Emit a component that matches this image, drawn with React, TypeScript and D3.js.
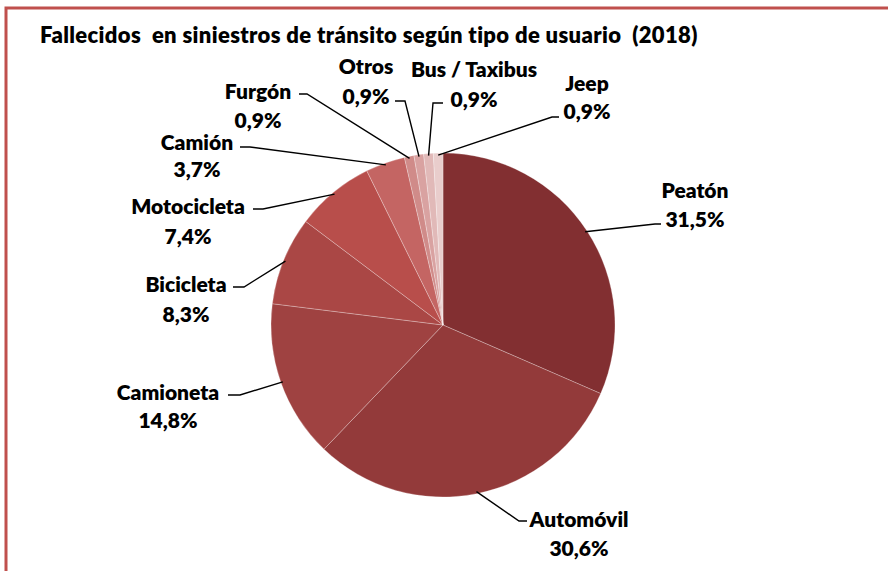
import React from 'react';
import * as d3 from 'd3';

const categories = ['Peatón', 'Automóvil', 'Camioneta', 'Bicicleta', 'Motocicleta', 'Camión', 'Furgón', 'Otros', 'Bus / Taxibus', 'Jeep'];
const shares = [31.5, 30.6, 14.8, 8.3, 7.4, 3.7, 0.9, 0.9, 0.9, 0.9];
const sliceColors = ['#822f31', '#933a3a', '#9f4241', '#aa4745', '#b84e4b', '#c46563', '#d08b89', '#d9a2a1', '#e1b9b8', '#e9cdcc'];
const title = 'Fallecidos  en siniestros de tránsito según tipo de usuario  (2018)';

// label layout: name centre, value centre, elbow of leader and tail end
const labelLayout = [
  { x: 695, ny: 189, vy: 218, ex: 655, ey: 224, tx: 661 },
  { x: 579, ny: 518, vy: 547, ex: 519, ey: 521, tx: 527 },
  { x: 168, ny: 391, vy: 419, ex: 240, ey: 395, tx: 228 },
  { x: 186, ny: 283, vy: 313, ex: 244, ey: 287, tx: 233 },
  { x: 188, ny: 205, vy: 235, ex: 263, ey: 209, tx: 253 },
  { x: 197, ny: 141, vy: 168, ex: 250, ey: 147, tx: 240 },
  { x: 258, ny: 90, vy: 119, ex: 307, ey: 94, tx: 299 },
  { x: 366, ny: 65, vy: 95, ex: 405, ey: 101, tx: 395 },
  { x: 474, ny: 68, vy: 98, ex: 433, ey: 103, tx: 443 },
  { x: 587, ny: 82, vy: 110, ex: 552, ey: 117, tx: 559 },
];

const W = 888;
const H = 571;
const cx = 443;
const cy = 325;
const radius = 172;

export default function App() {
  const data = categories.map((c, i) => ({ name: c, value: shares[i] }));
  const pie = d3.pie<{ name: string; value: number }>().sort(null).value(d => d.value);
  const arcs = pie(data);
  const arc = d3.arc<d3.PieArcDatum<{ name: string; value: number }>>().innerRadius(0).outerRadius(radius);
  const edge = d3.arc<d3.PieArcDatum<{ name: string; value: number }>>().innerRadius(radius - 2).outerRadius(radius - 2);
  const fmt = (v: number) => v.toFixed(1).replace('.', ',') + '%';
  const font = 'Lato, "Liberation Sans", sans-serif';

  return (
    <div style={{ position: 'absolute', left: 0, top: 0 }}>
      <svg width={W} height={H} style={{ display: 'block', background: '#fff' }}>
        <rect x={6} y={8} width={W + 20} height={H + 20} fill="#fff" stroke="#c0504d" strokeWidth={3} />
        <text x={40} y={43} fontFamily={font} fontWeight={800} fontSize={22} letterSpacing={0.35} fill="#000" style={{ whiteSpace: 'pre' }}>
          {title}
        </text>
        <g transform={`translate(${cx},${cy})`}>
          {arcs.map((a, i) => (
            <path key={i} d={arc(a) || ''} fill={sliceColors[i]} stroke="#fff" strokeOpacity={0.45} strokeWidth={0.6} />
          ))}
        </g>
        {arcs.map((a, i) => {
          const [px, py] = edge.centroid(a);
          const l = labelLayout[i];
          return (
            <g key={i}>
              <polyline
                points={`${cx + px},${cy + py} ${l.ex},${l.ey} ${l.tx},${l.ey}`}
                fill="none"
                stroke="#000"
                strokeWidth={1.4}
              />
              <text x={l.x} y={l.ny} textAnchor="middle" dominantBaseline="central" fontFamily={font} fontWeight={800} fontSize={21} fill="#000">
                {a.data.name}
              </text>
              <text x={l.x} y={l.vy} textAnchor="middle" dominantBaseline="central" fontFamily={font} fontWeight={800} fontSize={21} fill="#000">
                {fmt(a.data.value)}
              </text>
            </g>
          );
        })}
      </svg>
    </div>
  );
}
